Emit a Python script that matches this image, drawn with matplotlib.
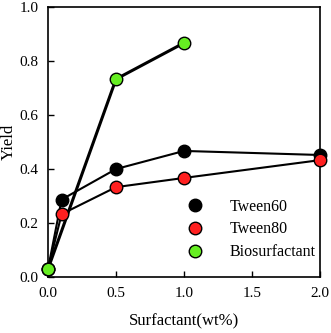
import matplotlib
matplotlib.use("Agg")
import matplotlib.pyplot as plt

plt.rcParams['font.family'] = ['Liberation Serif', 'DejaVu Serif']

x_t60 = [0.0, 0.1, 0.5, 1.0, 2.0]
y_t60 = [0.03, 0.287, 0.400, 0.467, 0.452]
x_t80 = [0.0, 0.1, 0.5, 1.0, 2.0]
y_t80 = [0.03, 0.233, 0.333, 0.367, 0.433]
x_bio = [0.0, 0.5, 1.0]
y_bio = [0.03, 0.733, 0.867]

fig = plt.figure(figsize=(3.31, 3.33), dpi=100)
ax = fig.add_axes([0.145, 0.168, 0.822, 0.811])

ms = 9
ax.plot(x_t60, y_t60, '-', color='black', lw=1.5, zorder=2, clip_on=False)
ax.plot(x_t80, y_t80, '-', color='black', lw=1.5, zorder=2, clip_on=False)
ax.plot(x_bio, y_bio, '-', color='black', lw=2.2, zorder=2, clip_on=False)
h1, = ax.plot(x_t60, y_t60, 'o', ms=ms, mfc='black', mec='black', mew=1, zorder=3, clip_on=False, label='Tween60')
h2, = ax.plot(x_t80, y_t80, 'o', ms=ms, mfc='#ff2020', mec='black', mew=1, zorder=3, clip_on=False, label='Tween80')
h3, = ax.plot(x_bio, y_bio, 'o', ms=ms, mfc='#66ee22', mec='black', mew=1, zorder=4, clip_on=False, label='Biosurfactant')

ax.set_xlim(0, 2.0)
ax.set_ylim(0, 1.0)
ax.set_xticks([0.0, 0.5, 1.0, 1.5, 2.0])
ax.set_yticks([0.0, 0.2, 0.4, 0.6, 0.8, 1.0])
ax.set_xticklabels(['0.0', '0.5', '1.0', '1.5', '2.0'])
ax.set_yticklabels(['0.0', '0.2', '0.4', '0.6', '0.8', '1.0'])
ax.tick_params(direction='in', length=4, width=1, labelsize=11, pad=7)
for s in ax.spines.values():
    s.set_linewidth(1.2)

ax.set_xlabel('Surfactant(wt%)', fontsize=12, labelpad=10)
ax.set_ylabel('Yield', fontsize=12)
ax.yaxis.set_label_coords(-0.114, 0.5)

ax.legend(handles=[h1, h2, h3], loc='upper left', bbox_to_anchor=(0.504, 0.29),
          frameon=False, fontsize=11.5, handletextpad=1.55, labelspacing=0.42,
          handlelength=1.25, borderpad=0, borderaxespad=0)

fig.savefig('out.png', dpi=100)
